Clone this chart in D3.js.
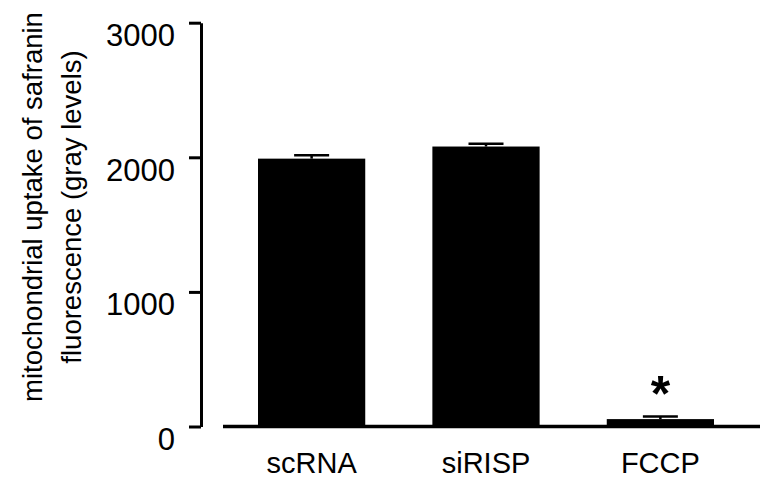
<!DOCTYPE html>
<html lang="en">
<head>
    <title>Safranin uptake</title>
    <script src="https://d3js.org/d3.v7.min.js"></script>
    <style>
        body { margin: 0; background: #fff; }
        svg { display: block; font-family: "Liberation Sans", Arial, sans-serif; }
        .axis path, .axis line { stroke: #000; stroke-width: 3; }
    </style>
</head>
<body>
    <div id="chart"></div>

    <script>
        var width = 767;
        var height = 481;

        // data
        var categories = ["scRNA", "siRISP", "FCCP"];
        var means = [1990, 2080, 55];
        var errors = [25, 20, 20];
        var significant = ["FCCP"];
        var yTicks = [0, 1000, 2000, 3000];
        var yTitle = ["mitochondrial uptake of safranin", "fluorescence (gray levels)"];

        var svg = d3.select("#chart").append("svg")
            .attr("width", width)
            .attr("height", height);

        var yscale = d3.scaleLinear()
            .domain([0, 3000])
            .range([426.5, 22.7]);

        var xscale = d3.scaleBand()
            .domain(categories)
            .range([258, 714])
            .paddingInner(0.385)
            .paddingOuter(0);

        function cx(i) { return xscale(categories[i]) + xscale.bandwidth() / 2; }

        // y axis
        var yaxis = d3.axisLeft(yscale)
            .tickValues(yTicks)
            .tickSize(12)
            .tickSizeOuter(0)
            .tickFormat(d3.format("d"));

        var gy = svg.append("g")
            .attr("class", "axis")
            .attr("transform", "translate(201,0)")
            .call(yaxis);
        gy.selectAll("text")
            .attr("x", -26)
            .attr("dy", null)
            .attr("y", 23)
            .attr("fill", "#000")
            .style("font-size", "31px");

        // bars
        svg.selectAll("rect.bar")
            .data(means)
            .enter()
            .append("rect")
            .attr("class", "bar")
            .attr("x", function (d, i) { return xscale(categories[i]); })
            .attr("width", xscale.bandwidth())
            .attr("y", function (d) { return yscale(d); })
            .attr("height", function (d) { return yscale(0) - yscale(d); })
            .attr("fill", "#000");

        // error bars (upper half only)
        var capW = 35;
        var err = svg.selectAll("g.err")
            .data(means)
            .enter()
            .append("g")
            .attr("class", "err")
            .attr("stroke", "#000")
            .attr("stroke-width", 2.5);
        err.append("line")
            .attr("x1", function (d, i) { return cx(i); })
            .attr("x2", function (d, i) { return cx(i); })
            .attr("y1", function (d) { return yscale(d); })
            .attr("y2", function (d, i) { return yscale(d + errors[i]); });
        err.append("line")
            .attr("x1", function (d, i) { return cx(i) - capW / 2; })
            .attr("x2", function (d, i) { return cx(i) + capW / 2; })
            .attr("y1", function (d, i) { return yscale(d + errors[i]); })
            .attr("y2", function (d, i) { return yscale(d + errors[i]); });

        // significance marks
        svg.selectAll("text.star")
            .data(significant)
            .enter()
            .append("text")
            .attr("class", "star")
            .attr("x", function (d) { return cx(categories.indexOf(d)); })
            .attr("y", function (d) {
                var i = categories.indexOf(d);
                return yscale(means[i] + errors[i]) - 5;
            })
            .attr("text-anchor", "middle")
            .attr("fill", "#000")
            .style("font-size", "50px")
            .style("font-weight", "bold")
            .text("*");

        // x axis baseline
        svg.append("line")
            .attr("x1", 223)
            .attr("x2", 760)
            .attr("y1", yscale(0))
            .attr("y2", yscale(0))
            .attr("stroke", "#000")
            .attr("stroke-width", 3.5);

        // category labels
        var gx = svg.append("g")
            .attr("class", "axis")
            .attr("transform", "translate(0," + yscale(0) + ")")
            .call(d3.axisBottom(xscale).tickSize(0));
        gx.select(".domain").remove();
        gx.selectAll("text")
            .attr("y", 46)
            .attr("dy", null)
            .attr("fill", "#000")
            .style("font-size", "29px");

        // y title
        svg.append("text")
            .attr("transform", "translate(42,207) rotate(-90)")
            .attr("text-anchor", "middle")
            .attr("fill", "#000")
            .style("font-size", "27.5px")
            .selectAll("tspan")
            .data(yTitle)
            .enter()
            .append("tspan")
            .attr("x", 0)
            .attr("y", function (d, i) { return i * 38.5; })
            .text(function (d) { return d; });
    </script>
</body>
</html>
